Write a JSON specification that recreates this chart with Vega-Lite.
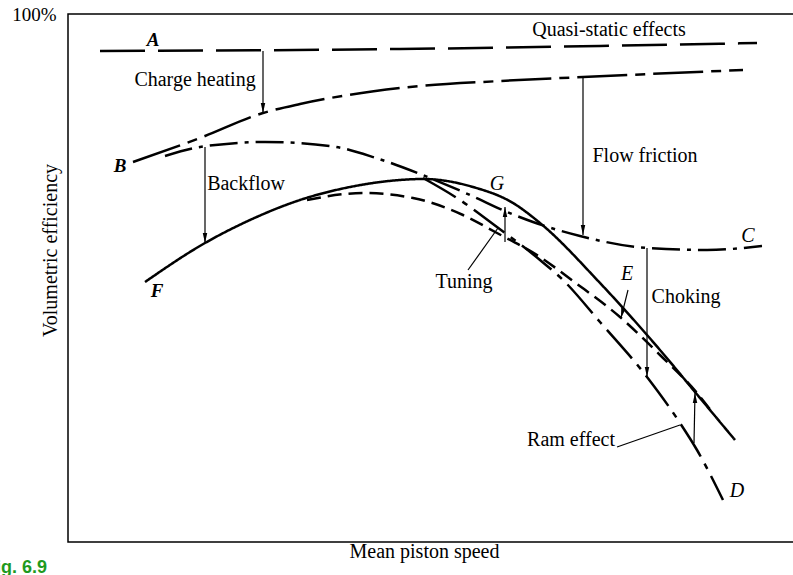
{
  "$schema": "https://vega.github.io/schema/vega-lite/v6.json",
  "width": 727,
  "height": 528,
  "autosize": "none",
  "padding": {"left": 68, "top": 14, "right": 0, "bottom": 33},
  "background": "white",
  "config": {
    "view": {"stroke": "black", "strokeWidth": 1.5},
    "axis": {"grid": false, "ticks": false, "domain": false},
    "font": "Liberation Serif"
  },
  "datasets": {
    "curves": [
      {"curve": "A", "x": 32, "y": 491}, {"curve": "A", "x": 332, "y": 493}, {"curve": "A", "x": 532, "y": 496}, {"curve": "A", "x": 689, "y": 499},
      {"curve": "Heated", "x": 65, "y": 380}, {"curve": "Heated", "x": 132, "y": 404}, {"curve": "Heated", "x": 195, "y": 429}, {"curve": "Heated", "x": 232, "y": 438}, {"curve": "Heated", "x": 332, "y": 454}, {"curve": "Heated", "x": 432, "y": 461}, {"curve": "Heated", "x": 515, "y": 465}, {"curve": "Heated", "x": 675, "y": 472},
      {"curve": "BC", "x": 97, "y": 386}, {"curve": "BC", "x": 132, "y": 395}, {"curve": "BC", "x": 197, "y": 400}, {"curve": "BC", "x": 262, "y": 396}, {"curve": "BC", "x": 308, "y": 384}, {"curve": "BC", "x": 352, "y": 368}, {"curve": "BC", "x": 402, "y": 347}, {"curve": "BC", "x": 439, "y": 330}, {"curve": "BC", "x": 465, "y": 320}, {"curve": "BC", "x": 512, "y": 306}, {"curve": "BC", "x": 579, "y": 294}, {"curve": "BC", "x": 639, "y": 292}, {"curve": "BC", "x": 694, "y": 296},
      {"curve": "F", "x": 77, "y": 260}, {"curve": "F", "x": 137, "y": 299}, {"curve": "F", "x": 182, "y": 322}, {"curve": "F", "x": 232, "y": 342}, {"curve": "F", "x": 282, "y": 355}, {"curve": "F", "x": 332, "y": 362}, {"curve": "F", "x": 355, "y": 363}, {"curve": "F", "x": 405, "y": 355}, {"curve": "F", "x": 445, "y": 339}, {"curve": "F", "x": 472, "y": 319}, {"curve": "F", "x": 532, "y": 259}, {"curve": "F", "x": 592, "y": 192}, {"curve": "F", "x": 632, "y": 144}, {"curve": "F", "x": 667, "y": 102},
      {"curve": "E", "x": 239, "y": 342}, {"curve": "E", "x": 295, "y": 349}, {"curve": "E", "x": 345, "y": 344}, {"curve": "E", "x": 395, "y": 327}, {"curve": "E", "x": 429, "y": 309}, {"curve": "E", "x": 472, "y": 285}, {"curve": "E", "x": 505, "y": 261}, {"curve": "E", "x": 552, "y": 225}, {"curve": "E", "x": 592, "y": 187}, {"curve": "E", "x": 629, "y": 149}, {"curve": "E", "x": 644, "y": 130},
      {"curve": "D", "x": 355, "y": 364}, {"curve": "D", "x": 392, "y": 342}, {"curve": "D", "x": 429, "y": 315}, {"curve": "D", "x": 472, "y": 282}, {"curve": "D", "x": 495, "y": 262}, {"curve": "D", "x": 532, "y": 220}, {"curve": "D", "x": 579, "y": 165}, {"curve": "D", "x": 612, "y": 119}, {"curve": "D", "x": 629, "y": 92}, {"curve": "D", "x": 655, "y": 42}
    ],
    "arrows": [
      {"x": 195, "y": 491, "x2": 195, "y2": 429},
      {"x": 515, "y": 464, "x2": 515, "y2": 307},
      {"x": 137, "y": 395, "x2": 137, "y2": 299},
      {"x": 579, "y": 294, "x2": 579, "y2": 165},
      {"x": 437, "y": 300, "x2": 437, "y2": 335},
      {"x": 626, "y": 99, "x2": 627, "y2": 149},
      {"x": 560, "y": 252, "x2": 553, "y2": 224},
      {"x": 400, "y": 272, "x2": 430, "y2": 314},
      {"x": 549, "y": 95, "x2": 612, "y2": 117}
    ],
    "heads": [
      {"x": 195, "y": 429, "angle": 0},
      {"x": 515, "y": 307, "angle": 0},
      {"x": 137, "y": 299, "angle": 0},
      {"x": 579, "y": 165, "angle": 0},
      {"x": 437, "y": 335, "angle": 180},
      {"x": 627, "y": 149, "angle": 180},
      {"x": 553, "y": 224, "angle": 14}
    ],
    "labels": [
      {"text": "Quasi-static effects", "x": 541, "y": 506},
      {"text": "Charge heating", "x": 127, "y": 456},
      {"text": "Backflow", "x": 178, "y": 352},
      {"text": "Flow friction", "x": 577, "y": 380},
      {"text": "Choking", "x": 618, "y": 239},
      {"text": "Tuning", "x": 396, "y": 254},
      {"text": "Ram effect", "x": 503, "y": 96}
    ],
    "boldLetters": [
      {"text": "A", "x": 85, "y": 496},
      {"text": "B", "x": 52, "y": 370},
      {"text": "F", "x": 89, "y": 245}
    ],
    "letters": [
      {"text": "G", "x": 429, "y": 352},
      {"text": "C", "x": 680, "y": 300},
      {"text": "E", "x": 559, "y": 262},
      {"text": "D", "x": 669, "y": 45}
    ],
    "fig": [
      {"text": "Fig. 6.9", "x": -21, "y": -31}
    ]
  },
  "encoding": {
    "x": {
      "field": "x", "type": "quantitative",
      "scale": {"domain": [0, 727], "nice": false, "zero": false},
      "axis": {
        "labels": false,
        "title": "Mean piston speed",
        "titleFont": "Liberation Serif", "titleFontSize": 20, "titleFontWeight": "normal", "titleColor": "black",
        "titleX": 356, "titleY": 15, "titleAlign": "center", "titleBaseline": "alphabetic"
      }
    },
    "y": {
      "field": "y", "type": "quantitative",
      "scale": {"domain": [0, 528], "nice": false, "zero": false},
      "axis": {
        "values": [528],
        "labelExpr": "'100%'",
        "labelFont": "Liberation Serif", "labelFontSize": 19, "labelColor": "black", "labelPadding": 12,
        "title": "Volumetric efficiency",
        "titleFont": "Liberation Serif", "titleFontSize": 20, "titleFontWeight": "normal", "titleColor": "black",
        "titleX": -18, "titleY": 236, "titleAngle": -90, "titleAlign": "center", "titleBaseline": "middle"
      }
    }
  },
  "layer": [
    {
      "data": {"name": "curves"},
      "mark": {"type": "line", "color": "black", "strokeWidth": 2.5, "interpolate": "monotone", "strokeCap": "butt"},
      "encoding": {
        "detail": {"field": "curve"},
        "strokeDash": {
          "field": "curve", "type": "nominal", "legend": null,
          "scale": {
            "domain": ["A", "Heated", "BC", "F", "E", "D"],
            "range": [[45, 13], [50, 8, 10, 8], [28, 7, 4, 7], [1, 0], [14, 7], [38, 8, 6, 8]]
          }
        }
      }
    },
    {
      "data": {"name": "arrows"},
      "mark": {"type": "rule", "color": "black", "strokeWidth": 1.2},
      "encoding": {
        "x2": {"field": "x2"},
        "y2": {"field": "y2"}
      }
    },
    {
      "data": {"name": "heads"},
      "mark": {"type": "point", "shape": "M0,0L-0.5,-2.2L0.5,-2.2Z", "filled": true, "color": "black", "size": 81, "opacity": 1},
      "encoding": {
        "angle": {"field": "angle", "type": "quantitative", "scale": null}
      }
    },
    {
      "data": {"name": "labels"},
      "mark": {"type": "text", "font": "Liberation Serif", "fontSize": 20, "color": "black", "align": "center", "baseline": "alphabetic"},
      "encoding": {"text": {"field": "text"}}
    },
    {
      "data": {"name": "boldLetters"},
      "mark": {"type": "text", "font": "Liberation Serif", "fontSize": 19, "fontStyle": "italic", "fontWeight": "bold", "color": "black", "align": "center", "baseline": "alphabetic"},
      "encoding": {"text": {"field": "text"}}
    },
    {
      "data": {"name": "letters"},
      "mark": {"type": "text", "font": "Liberation Serif", "fontSize": 20, "fontStyle": "italic", "color": "black", "align": "center", "baseline": "alphabetic"},
      "encoding": {"text": {"field": "text"}}
    },
    {
      "data": {"name": "fig"},
      "mark": {"type": "text", "font": "Liberation Sans", "fontSize": 18, "fontWeight": "bold", "color": "#1e9a1e", "align": "right", "baseline": "alphabetic"},
      "encoding": {"text": {"field": "text"}}
    }
  ]
}
